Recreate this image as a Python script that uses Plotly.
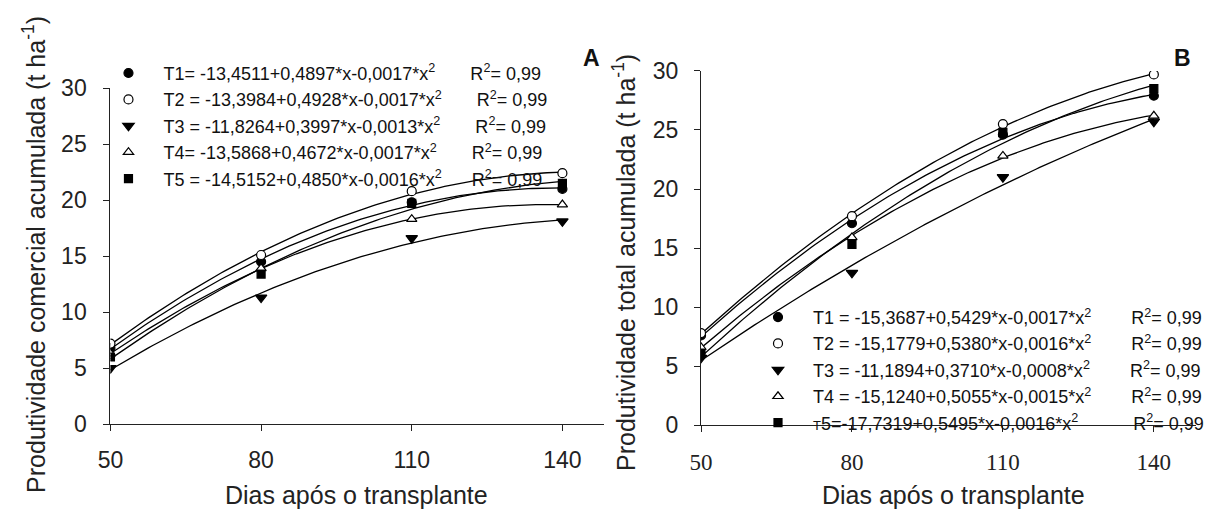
import numpy as np
import plotly.graph_objects as go

W, H = 1209, 517

days = [50, 80, 110, 140]
x_ticks = [50, 80, 110, 140]
y_ticks = [0, 5, 10, 15, 20, 25, 30]

# Panel A - Produtividade comercial acumulada (t/ha)
a_T1 = [6.8, 14.5, 19.8, 21.0]
a_T2 = [7.2, 15.1, 20.8, 22.4]
a_T3 = [5.0, 11.3, 16.6, 18.1]
a_T4 = [6.3, 13.9, 18.3, 19.6]
a_T5 = [6.0, 13.4, 19.7, 21.5]

# Panel B - Produtividade total acumulada (t/ha)
b_T1 = [7.6, 17.1, 24.6, 27.9]
b_T2 = [7.8, 17.7, 25.5, 29.7]
b_T3 = [5.7, 12.9, 21.0, 25.7]
b_T4 = [6.6, 15.9, 22.8, 26.2]
b_T5 = [6.1, 15.3, 24.8, 28.5]

NB = "\u00a0"
sup2 = "<sup>2</sup>"
lead = NB * 3
r2 = "R" + sup2 + "= 0,99"
a_labels = [
    lead + "T1= -13,4511+0,4897*x-0,0017*x" + sup2 + NB * 7 + r2,
    lead + "T2 = -13,3984+0,4928*x-0,0017*x" + sup2 + NB * 7 + r2,
    lead + "T3 = -11,8264+0,3997*x-0,0013*x" + sup2 + NB * 7 + r2,
    lead + "T4= -13,5868+0,4672*x-0,0017*x" + sup2 + NB * 7 + r2,
    lead + "T5 = -14,5152+0,4850*x-0,0016*x" + sup2 + NB * 6 + r2,
]
b_labels = [
    lead + "T1 = -15,3687+0,5429*x-0,0017*x" + sup2 + NB * 8 + r2,
    lead + "T2 = -15,1779+0,5380*x-0,0016*x" + sup2 + NB * 8 + r2,
    lead + "T3 = -11,1894+0,3710*x-0,0008*x" + sup2 + NB * 8 + r2,
    lead + "T4 = -15,1240+0,5055*x-0,0015*x" + sup2 + NB * 8 + r2,
    lead + "<span style='font-size:13px'>T</span>5=-17,7319+0,5495*x-0,0016*x" + sup2 + NB * 11 + r2,
]

symbols = ["circle", "circle", "triangle-down", "triangle-up", "square"]
fills = ["black", "white", "black", "white", "black"]
sizes = [9, 9, 10, 9, 8]

fig = go.Figure()

def add_panel(series, labels, xa, ya, legend):
    xs = np.linspace(days[0], days[-1], 120)
    for vals in series:
        coef = np.polyfit(days, vals, 2)
        fig.add_trace(go.Scatter(x=xs, y=np.polyval(coef, xs), mode="lines",
                                 line=dict(color="black", width=1.3),
                                 showlegend=False, hoverinfo="skip",
                                 xaxis=xa, yaxis=ya))
    for vals, lab, sym, fc, sz in zip(series, labels, symbols, fills, sizes):
        fig.add_trace(go.Scatter(x=days, y=vals, mode="markers", name=lab,
                                 marker=dict(symbol=sym, size=sz, color=fc,
                                             line=dict(color="black", width=1.2)),
                                 xaxis=xa, yaxis=ya, legend=legend))

add_panel([a_T1, a_T2, a_T3, a_T4, a_T5], a_labels, "x", "y", "legend")
add_panel([b_T1, b_T2, b_T3, b_T4, b_T5], b_labels, "x2", "y2", "legend2")

def px(v):
    return v / W

def py(v):
    return 1 - v / H

axis_common = dict(showline=True, linecolor="#222", linewidth=1.3, ticks="outside",
                   ticklen=6, tickcolor="#222", tickwidth=1.3, showgrid=False,
                   zeroline=False, mirror=False)

fig.update_layout(
    width=W, height=H, margin=dict(l=0, r=0, t=0, b=0),
    paper_bgcolor="white", plot_bgcolor="white",
    xaxis=dict(domain=[px(99), px(600)], range=[50, 148.2], tickvals=x_ticks,
               tickfont=dict(family="Liberation Sans", size=23, color="#222"),
               ticklabelstandoff=9, anchor="y", **axis_common),
    yaxis=dict(domain=[py(433), py(79)], range=[0, 30], tickvals=y_ticks,
               tickfont=dict(family="Liberation Sans", size=23, color="#222"),
               ticklabelstandoff=12, anchor="x", **axis_common),
    xaxis2=dict(domain=[px(699), px(1202)], range=[50, 148.4], tickvals=x_ticks,
                tickfont=dict(family="Liberation Serif", size=23, color="#222"),
                ticklabelstandoff=10, anchor="y2", **axis_common),
    yaxis2=dict(domain=[py(434), py(61)], range=[0, 30], tickvals=y_ticks,
                tickfont=dict(family="Liberation Sans", size=23, color="#222"),
                ticklabelstandoff=11, anchor="x2", **axis_common),
    legend=dict(x=px(97), y=py(44), xanchor="left", yanchor="top",
                bgcolor="rgba(0,0,0,0)", itemwidth=30,
                font=dict(family="Liberation Sans", size=18, color="#111")),
    legend2=dict(x=px(757), y=py(301), xanchor="left", yanchor="top",
                 bgcolor="rgba(0,0,0,0)", itemwidth=30,
                 font=dict(family="Liberation Sans", size=18, color="#111")),
)

ann_font = dict(family="Liberation Sans", size=25, color="#222")
annotations = [
    dict(text="Produtividade comercial acumulada (t ha<sup>-1</sup>)", x=px(22), y=py(254),
         textangle=-90, font=ann_font),
    dict(text="Produtividade total acumulada (t ha<sup>-1</sup>)", x=px(621), y=py(263),
         textangle=-90, font=ann_font),
    dict(text="Dias após o transplante", x=px(349), y=py(508), font=ann_font),
    dict(text="Dias após o transplante", x=px(956), y=py(507), font=ann_font),
    dict(text="<b>A</b>", x=px(588), y=py(47), font=dict(family="Liberation Sans", size=23, color="#111")),
    dict(text="<b>B</b>", x=px(1188), y=py(47), font=dict(family="Liberation Sans", size=23, color="#111")),
]
for a in annotations:
    a.update(xref="paper", yref="paper", showarrow=False, xanchor="center", yanchor="middle")
fig.update_layout(annotations=annotations)

fig.write_html("out.html")
